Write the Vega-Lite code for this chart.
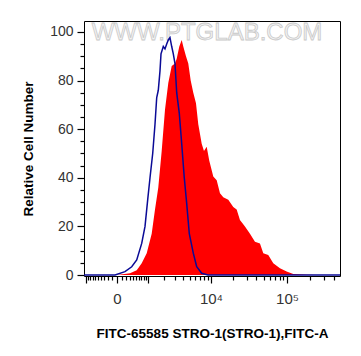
{
  "$schema": "https://vega.github.io/schema/vega-lite/v6.json",
  "width": 256,
  "height": 255,
  "autosize": "none",
  "padding": {"left": 84, "top": 21, "right": 21, "bottom": 80},
  "background": "white",
  "config": {
    "view": {"stroke": "black", "strokeWidth": 1},
    "font": "Liberation Sans"
  },
  "datasets": {
    "red": [
      {"x": -1100, "y": 0}, {"x": 0, "y": 0}, {"x": 312, "y": 0.7}, {"x": 526, "y": 2}, {"x": 715, "y": 4.8},
      {"x": 935, "y": 9}, {"x": 1189, "y": 17}, {"x": 1379, "y": 27}, {"x": 1588, "y": 36},
      {"x": 1826, "y": 51}, {"x": 2081, "y": 68}, {"x": 2362, "y": 79}, {"x": 2683, "y": 86},
      {"x": 3024, "y": 87}, {"x": 3214, "y": 89}, {"x": 3524, "y": 94}, {"x": 3833, "y": 96.7},
      {"x": 4048, "y": 94}, {"x": 4438, "y": 90}, {"x": 4797, "y": 87}, {"x": 5199, "y": 80},
      {"x": 5667, "y": 75}, {"x": 6190, "y": 70.7}, {"x": 6670, "y": 62}, {"x": 7450, "y": 54},
      {"x": 8018, "y": 51}, {"x": 8738, "y": 52.8}, {"x": 9485, "y": 47}, {"x": 10760, "y": 40.5},
      {"x": 11966, "y": 39}, {"x": 13254, "y": 33.6}, {"x": 14681, "y": 32}, {"x": 17115, "y": 31},
      {"x": 19943, "y": 28}, {"x": 22111, "y": 27}, {"x": 24432, "y": 22.6}, {"x": 28433, "y": 20},
      {"x": 33063, "y": 17}, {"x": 38426, "y": 13.7}, {"x": 44636, "y": 13}, {"x": 49285, "y": 9},
      {"x": 57197, "y": 8.2}, {"x": 66433, "y": 4.8}, {"x": 81040, "y": 2.8}, {"x": 98913, "y": 1.4},
      {"x": 120327, "y": 0.4}, {"x": 178956, "y": 0.1}, {"x": 240717, "y": 0}, {"x": 480000, "y": 0}
    ],
    "blue": [
      {"x": -1100, "y": 0}, {"x": -40, "y": 0}, {"x": 177, "y": 1.4}, {"x": 362, "y": 3.4}, {"x": 526, "y": 6.2},
      {"x": 715, "y": 13}, {"x": 857, "y": 20}, {"x": 983, "y": 31}, {"x": 1099, "y": 40},
      {"x": 1245, "y": 50}, {"x": 1379, "y": 62}, {"x": 1485, "y": 73}, {"x": 1588, "y": 76},
      {"x": 1704, "y": 84}, {"x": 1776, "y": 91}, {"x": 1947, "y": 94}, {"x": 2081, "y": 93},
      {"x": 2222, "y": 95}, {"x": 2362, "y": 96.7}, {"x": 2517, "y": 97.7}, {"x": 2683, "y": 94},
      {"x": 2844, "y": 91}, {"x": 3024, "y": 87}, {"x": 3214, "y": 75}, {"x": 3524, "y": 66.5},
      {"x": 3833, "y": 54}, {"x": 4188, "y": 40}, {"x": 4545, "y": 29.5}, {"x": 4962, "y": 17},
      {"x": 5667, "y": 9}, {"x": 6337, "y": 3.4}, {"x": 7450, "y": 0.7}, {"x": 9105, "y": 0},
      {"x": 480000, "y": 0}
    ],
    "mark": [{"x": 8820, "y": 99.6, "label": "WWW.PTGLAB.COM"}]
  },
  "encoding": {
    "x": {
      "field": "x", "type": "quantitative",
      "scale": {"type": "symlog", "constant": 667, "domain": [-1100, 480000], "nice": false, "zero": false},
      "axis": {
        "title": "FITC-65585 STRO-1(STRO-1),FITC-A",
        "titleFontSize": 13.5, "titleFontWeight": "bold", "titleColor": "black", "titlePadding": 20,
        "values": [-1000, -900, -800, -700, -600, -500, -400, -300, -200, -100, 0, 100, 200, 300, 400, 500, 600, 700, 800, 900, 1000, 2000, 3000, 4000, 5000, 6000, 7000, 8000, 9000, 10000, 20000, 30000, 40000, 50000, 60000, 70000, 80000, 90000, 100000, 200000, 300000, 400000],
        "labelExpr": "datum.value == 0 ? '0' : datum.value == 10000 ? '10⁴' : datum.value == 100000 ? '10⁵' : ''",
        "tickSize": {"condition": {"test": "datum.value == 0 || datum.value == 1000 || datum.value == 10000 || datum.value == 100000 || datum.value == -1000", "value": 7}, "value": 4},
        "tickColor": "black", "tickWidth": 1.2, "domain": false, "grid": false,
        "labelFontSize": 15, "labelColor": "#333333", "labelPadding": 8, "labelFlush": false, "labelOverlap": false
      }
    },
    "y": {
      "field": "y", "type": "quantitative",
      "scale": {"domain": [-0.4, 104.5], "nice": false, "zero": false},
      "axis": {
        "title": "Relative Cell Number",
        "titleFontSize": 13.5, "titleFontWeight": "bold", "titleColor": "black", "titlePadding": 14,
        "values": [0, 5, 10, 15, 20, 25, 30, 35, 40, 45, 50, 55, 60, 65, 70, 75, 80, 85, 90, 95, 100],
        "labelExpr": "datum.value % 20 == 0 ? datum.label : ''",
        "tickSize": {"condition": {"test": "datum.value % 20 == 0", "value": 7}, "value": 4},
        "tickColor": "black", "tickWidth": 1.2, "domain": false, "grid": false,
        "labelFontSize": 14, "labelColor": "#333333", "labelPadding": 4, "labelOverlap": false
      }
    }
  },
  "layer": [
    {
      "data": {"name": "mark"},
      "mark": {"type": "text", "fontSize": 24, "fill": "#f3f3f3", "stroke": "#c9c9c9", "strokeWidth": 0.8, "align": "center", "baseline": "middle"},
      "encoding": {"text": {"field": "label"}}
    },
    {
      "data": {"name": "red"},
      "mark": {"type": "area", "color": "#ff0000", "clip": true},
      "encoding": {}
    },
    {
      "data": {"name": "blue"},
      "mark": {"type": "line", "color": "#0a0a96", "strokeWidth": 1.5, "clip": true},
      "encoding": {}
    }
  ]
}
